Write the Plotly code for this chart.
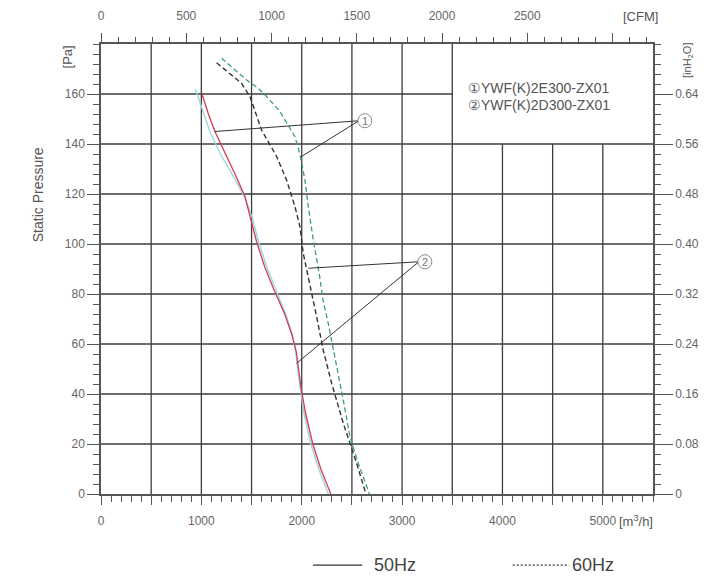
import plotly.graph_objects as go

# ---------------- data (airflow m3/h, static pressure Pa) ----------------
q_red = [1006, 1070, 1135, 1220, 1335, 1434, 1490, 1550, 1630, 1720, 1830, 1900, 1945, 1970, 1995, 2040, 2110, 2190, 2290]
p_red = [160, 152, 145, 138, 128, 119, 110, 101, 91, 82, 72, 64, 57, 50, 42, 32, 20, 10, 0]

q_cyan = [940, 1000, 1085, 1190, 1320, 1440, 1510, 1570, 1650, 1740, 1840, 1905, 1940, 1960, 1985, 2025, 2090, 2170, 2265]
p_cyan = [162, 155, 145, 136, 127, 118, 110, 101, 91, 82, 72, 64, 57, 50, 42, 32, 20, 10, 0]

q_teal = [1202, 1318, 1451, 1567, 1650, 1783, 1932, 1982, 2032, 2065, 2115, 2175, 2210, 2264, 2331, 2414, 2480, 2563, 2675]
p_teal = [174.3, 170.3, 165.6, 162.3, 159, 153, 143, 136, 125.6, 115, 101.6, 88, 78, 68.3, 55, 37.6, 23, 12.3, 0]

q_dark = [1152, 1284, 1400, 1484, 1600, 1750, 1849, 1932, 1982, 2015, 2060, 2090, 2148, 2214, 2298, 2414, 2480, 2547, 2640]
p_dark = [172.5, 168.3, 164.3, 159, 145.6, 135, 125.6, 115, 107, 96.3, 88, 82, 71, 57.6, 44.3, 28.3, 20.3, 12.3, 0]

# axis ticks / labels
x_major = list(range(0, 5001, 500))
x_labels = [str(v) if v % 1000 == 0 else "" for v in x_major]
y_major = list(range(0, 161, 20))
cfm_major = list(range(0, 3001, 500))
cfm_labels = [str(v) if v <= 2500 else "" for v in cfm_major]
inh2o_major = [0, 0.08, 0.16, 0.24, 0.32, 0.40, 0.48, 0.56, 0.64]
inh2o_labels = ["0", "0.08", "0.16", "0.24", "0.32", "0.40", "0.48", "0.56", "0.64"]

model_names = ["\u2460YWF(K)2E300-ZX01", "\u2461YWF(K)2D300-ZX01"]

# callout leader lines (data coords): circle centre, then end points
callout1_center = (2629, 149.3)
callout1_ends = [(1135, 145), (1998, 135)]
callout2_center = (3227, 92.9)
callout2_ends = [(2065, 90.3), (1949, 52.3)]

X_MAX = 5500
Y_MAX = 180
M3H_PER_CFM = 1.699
PA_PER_INH2O = 250.0

FONT = "Liberation Sans, Arial, sans-serif"
GRID = "#3d3d3d"
AX = "#555555"
TXT = "#666666"

fig = go.Figure()

fig.add_trace(go.Scatter(x=q_cyan, y=p_cyan, mode="lines", line=dict(color="#96dadd", width=1.4),
                         showlegend=False, hoverinfo="skip"))
fig.add_trace(go.Scatter(x=q_red, y=p_red, mode="lines", line=dict(color="#d83a52", width=1.3),
                         showlegend=False, hoverinfo="skip"))
fig.add_trace(go.Scatter(x=q_teal, y=p_teal, mode="lines", line=dict(color="#3a9c86", width=1.3, dash="5px,3px"),
                         showlegend=False, hoverinfo="skip"))
fig.add_trace(go.Scatter(x=q_dark, y=p_dark, mode="lines", line=dict(color="#333333", width=1.4, dash="5px,3px"),
                         showlegend=False, hoverinfo="skip"))
# invisible trace to carry the secondary (CFM / inH2O) axes
fig.add_trace(go.Scatter(x=[0], y=[0], xaxis="x2", yaxis="y2", mode="markers",
                         marker=dict(opacity=0), showlegend=False, hoverinfo="skip"))

shapes = []
# grid (legend box area at upper right is left blank)
for v in x_major[1:]:
    top = 140 if v >= 4000 else Y_MAX
    shapes.append(dict(type="line", xref="x", yref="y", x0=v, x1=v, y0=0, y1=top,
                       line=dict(color=GRID, width=1.3), layer="below"))
for v in y_major[1:]:
    right = 3500 if v == 160 else X_MAX
    shapes.append(dict(type="line", xref="x", yref="y", x0=0, x1=right, y0=v, y1=v,
                       line=dict(color=GRID, width=1.3), layer="below"))

# callouts
for (cx, cy), ends in [(callout1_center, callout1_ends), (callout2_center, callout2_ends)]:
    for (ex, ey) in ends:
        shapes.append(dict(type="line", xref="x", yref="y", x0=cx - 60, x1=ex, y0=cy, y1=ey,
                           line=dict(color="#333333", width=1)))
    shapes.append(dict(type="circle", xref="x", yref="y", xsizemode="pixel", ysizemode="pixel",
                       xanchor=cx, yanchor=cy, x0=-7, x1=7, y0=-7, y1=7,
                       line=dict(color="#888888", width=1), fillcolor="white"))

# bottom legend samples
LEG_Y = -0.158
shapes.append(dict(type="line", xref="paper", yref="paper", x0=0.384, x1=0.473, y0=LEG_Y, y1=LEG_Y,
                   line=dict(color="#333333", width=1.3)))
shapes.append(dict(type="line", xref="paper", yref="paper", x0=0.746, x1=0.848, y0=LEG_Y, y1=LEG_Y,
                   line=dict(color="#333333", width=1.2, dash="2px,2px")))

annotations = []
for (cx, cy), label in [(callout1_center, "1"), (callout2_center, "2")]:
    annotations.append(dict(x=cx, y=cy, xref="x", yref="y", text=label, showarrow=False,
                            xanchor="center", yanchor="middle",
                            font=dict(family=FONT, size=11, color="#777777")))

for i, name in enumerate(model_names):
    annotations.append(dict(x=0.661, y=0.902 - i * 0.038, xref="paper", yref="paper", text=name,
                            showarrow=False, xanchor="left", yanchor="middle",
                            font=dict(family=FONT, size=14, color="#555555")))

def note(x, y, text, size, angle=0, xanchor="center", color="#555555"):
    return dict(x=x, y=y, xref="paper", yref="paper", text=text, textangle=angle, showarrow=False,
                xanchor=xanchor, yanchor="middle", font=dict(family=FONT, size=size, color=color))

annotations += [
    note(-0.114, 0.664, "Static Pressure", 14, -90),
    note(-0.060, 0.972, "[Pa]", 13, -90),
    note(1.063, 0.964, "[inH<sub>2</sub>O]", 11, -90),
    note(0.977, 1.062, "[CFM]", 13),
    note(0.970, -0.060, "[m<sup>3</sup>/h]", 13),
    note(0.491, LEG_Y, "50Hz", 18, 0, "left", "#444444"),
    note(0.850, LEG_Y, "60Hz", 18, 0, "left", "#444444"),
]

tickfont = dict(family=FONT, size=12, color=TXT)

# the page body adds an 8px offset; the figure is sized so the plot area lands at
# x 101..653, y 44..494 of the 726x582 window
fig.update_layout(
    width=718, height=574,
    margin=dict(l=93, r=73, t=36, b=88, autoexpand=False),
    paper_bgcolor="white", plot_bgcolor="white",
    showlegend=False,
    shapes=shapes, annotations=annotations,
    xaxis=dict(range=[0, X_MAX], automargin=False, showgrid=False, zeroline=False, showline=True,
               linecolor=AX, linewidth=1.5,
               tickmode="array", tickvals=x_major, ticktext=x_labels, ticks="outside", ticklen=9,
               tickcolor=AX, tickwidth=1.3, ticklabelstandoff=6, tickfont=tickfont,
               minor=dict(tickmode="linear", tick0=0, dtick=100, ticks="outside", ticklen=6,
                          tickcolor=AX, tickwidth=1, showgrid=False)),
    yaxis=dict(range=[0, Y_MAX], automargin=False, showgrid=False, zeroline=False, showline=True,
               linecolor=AX, linewidth=1.5,
               tickmode="array", tickvals=y_major, ticks="outside", ticklen=12, tickcolor=AX,
               tickwidth=1.3, tickfont=tickfont,
               minor=dict(tickmode="linear", tick0=0, dtick=4, ticks="outside", ticklen=6,
                          tickcolor=AX, tickwidth=1, showgrid=False)),
    xaxis2=dict(range=[0, X_MAX / M3H_PER_CFM], overlaying="x", side="top", anchor="y", automargin=False,
                showgrid=False, zeroline=False, showline=True, linecolor=AX, linewidth=1.5,
                tickmode="array", tickvals=cfm_major, ticktext=cfm_labels, ticks="outside", ticklen=9,
                tickcolor=AX, tickwidth=1.3, ticklabelstandoff=8, tickfont=tickfont,
                minor=dict(tickmode="linear", tick0=0, dtick=100, ticks="outside", ticklen=5,
                           tickcolor=AX, tickwidth=1, showgrid=False)),
    yaxis2=dict(range=[0, Y_MAX / PA_PER_INH2O], overlaying="y", side="right", anchor="x", automargin=False,
                showgrid=False, zeroline=False, showline=True, linecolor=AX, linewidth=1.5,
                tickmode="array", tickvals=inh2o_major, ticktext=inh2o_labels, ticks="outside",
                ticklen=18, tickcolor=AX, tickwidth=1.3, tickfont=tickfont,
                minor=dict(tickmode="linear", tick0=0, dtick=0.016, ticks="outside", ticklen=6,
                           tickcolor=AX, tickwidth=1, showgrid=False)),
)

fig.write_html("out.html")
